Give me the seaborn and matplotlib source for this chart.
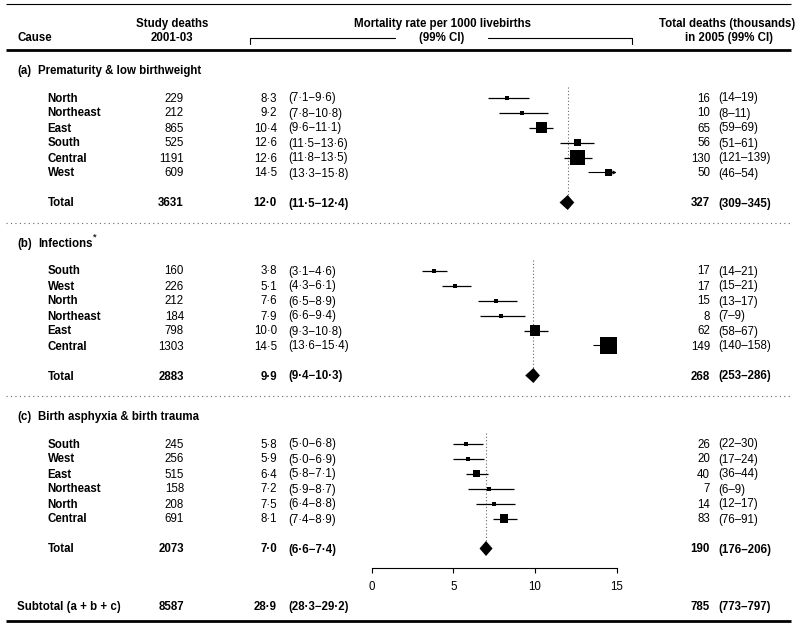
import numpy as np
import pandas as pd
import matplotlib
matplotlib.use("Agg")
import matplotlib.pyplot as plt
import matplotlib.transforms as mtrans
import seaborn as sns

# ---------------- data ----------------
section_letters = ["(a)", "(b)", "(c)"]
section_titles = ["Prematurity & low birthweight", "Infections", "Birth asphyxia & birth trauma"]

regions_a = ["North", "Northeast", "East", "South", "Central", "West"]
deaths_a = [229, 212, 865, 525, 1191, 609]
rate_a = [8.3, 9.2, 10.4, 12.6, 12.6, 14.5]
rlo_a = [7.1, 7.8, 9.6, 11.5, 11.8, 13.3]
rhi_a = [9.6, 10.8, 11.1, 13.6, 13.5, 15.8]
tot_a = [16, 10, 65, 56, 130, 50]
tlo_a = [14, 8, 59, 51, 121, 46]
thi_a = [19, 11, 69, 61, 139, 54]
total_a = dict(deaths=3631, rate=12.0, lo=11.5, hi=12.4, tot=327, tlo=309, thi=345)

regions_b = ["South", "West", "North", "Northeast", "East", "Central"]
deaths_b = [160, 226, 212, 184, 798, 1303]
rate_b = [3.8, 5.1, 7.6, 7.9, 10.0, 14.5]
rlo_b = [3.1, 4.3, 6.5, 6.6, 9.3, 13.6]
rhi_b = [4.6, 6.1, 8.9, 9.4, 10.8, 15.4]
tot_b = [17, 17, 15, 8, 62, 149]
tlo_b = [14, 15, 13, 7, 58, 140]
thi_b = [21, 21, 17, 9, 67, 158]
total_b = dict(deaths=2883, rate=9.9, lo=9.4, hi=10.3, tot=268, tlo=253, thi=286)

regions_c = ["South", "West", "East", "Northeast", "North", "Central"]
deaths_c = [245, 256, 515, 158, 208, 691]
rate_c = [5.8, 5.9, 6.4, 7.2, 7.5, 8.1]
rlo_c = [5.0, 5.0, 5.8, 5.9, 6.4, 7.4]
rhi_c = [6.8, 6.9, 7.1, 8.7, 8.8, 8.9]
tot_c = [26, 20, 40, 7, 14, 83]
tlo_c = [22, 17, 36, 6, 12, 76]
thi_c = [30, 24, 44, 9, 17, 91]
total_c = dict(deaths=2073, rate=7.0, lo=6.6, hi=7.4, tot=190, tlo=176, thi=206)

subtotal = dict(deaths=8587, rate=28.9, lo=28.3, hi=29.2, tot=785, tlo=773, thi=797)

x_ticks = [0, 5, 10, 15]

sections = [
    (regions_a, deaths_a, rate_a, rlo_a, rhi_a, tot_a, tlo_a, thi_a, total_a),
    (regions_b, deaths_b, rate_b, rlo_b, rhi_b, tot_b, tlo_b, thi_b, total_b),
    (regions_c, deaths_c, rate_c, rlo_c, rhi_c, tot_c, tlo_c, thi_c, total_c),
]

# ---------------- layout ----------------
W, H = 800, 629
sns.set_theme(style="white")
plt.rcParams["font.family"] = ["Liberation Sans", "DejaVu Sans"]
FS = 8.3

fig = plt.figure(figsize=(W / 100, H / 100), dpi=100)
x0_px, x15_px, axis_y = 371.7, 616.7, 568.3
ax = fig.add_axes([x0_px / W, (H - axis_y) / H, (x15_px - x0_px) / W, axis_y / H])
ax.set_facecolor("none")
XMAX = 15

blend = mtrans.blended_transform_factory(fig.transFigure, ax.transData)


def fmt(v):
    return f"{v:.1f}".replace(".", "\u00b7")


def txt(px, y, s, ha="left", bold=False, size=FS, **kw):
    ax.text(px / W, y + 4.0, s, transform=blend, ha=ha, va="baseline",
            fontsize=size, fontweight="bold" if bold else "normal",
            color="black", clip_on=False, **kw)


def hline_fig(y, lw, ls="-", color="black"):
    ax.plot([6 / W, 791 / W], [y, y], transform=blend, color=color, lw=lw,
            ls=ls, clip_on=False, solid_capstyle="butt")


X_NAME, X_DEATHS, X_RATE, X_RCI, X_TOT, X_TCI = 47.5, 184, 277, 288, 710, 718

# header
hline_fig(4, 0.8)
txt(17, 37, "Cause", bold=True)
txt(172, 23, "Study deaths", ha="center", bold=True)
txt(172, 37, "2001-03", ha="center", bold=True)
txt(442, 23, "Mortality rate per 1000 livebirths", ha="center", bold=True)
txt(442, 37, "(99% CI)", ha="center", bold=True)
txt(727, 23, "Total deaths (thousands)", ha="center", bold=True)
txt(729, 37, "in 2005 (99% CI)", ha="center", bold=True)
ax.plot(np.array([250, 250, 395]) / W, [44, 38, 38], transform=blend, color="black", lw=0.8, clip_on=False)
ax.plot(np.array([488, 632, 632]) / W, [38, 38, 44], transform=blend, color="black", lw=0.8, clip_on=False)
hline_fig(50, 2.0)

rows = []
header_ys = [70, 243, 416]
for si, (reg, dth, rt, lo, hi, tt, tl, th, total) in enumerate(sections):
    hy = header_ys[si]
    txt(17, hy, section_letters[si], bold=True)
    txt(38, hy, section_titles[si], bold=True)
    if si == 1:
        ax.text(93 / W, hy - 6, "*", transform=blend, ha="left", va="center",
                fontsize=6.5, fontweight="bold", clip_on=False)
    if si > 0:
        hline_fig(hy - 20.5, 0.8, ls=(0, (1, 3)), color="#666666")
    for i in range(len(reg)):
        y = hy + 27.5 + 15 * i
        txt(X_NAME, y, reg[i], bold=True)
        txt(X_DEATHS, y, str(dth[i]), ha="right")
        txt(X_RATE, y, fmt(rt[i]), ha="right")
        txt(X_RCI, y, f"({fmt(lo[i])}\u2212{fmt(hi[i])})")
        txt(X_TOT, y, str(tt[i]), ha="right")
        txt(X_TCI, y, f"({tl[i]}\u2013{th[i]})")
        rows.append(dict(rate=rt[i], y=y, deaths=dth[i], lo=lo[i], hi=hi[i]))
    ty = hy + 132.5
    txt(X_NAME, ty, "Total", bold=True)
    txt(X_DEATHS, ty, str(total["deaths"]), ha="right", bold=True)
    txt(X_RATE, ty, fmt(total["rate"]), ha="right", bold=True)
    txt(X_RCI, ty, f"({fmt(total['lo'])}\u2212{fmt(total['hi'])})", bold=True)
    txt(X_TOT, ty, str(total["tot"]), ha="right", bold=True)
    txt(X_TCI, ty, f"({total['tlo']}\u2013{total['thi']})", bold=True)
    # reference line
    ax.vlines(total["rate"], hy + 17, ty, colors="#666666", lw=0.8, linestyles=(0, (1, 2)), zorder=1)
    # diamond
    ax.fill([total["lo"], total["rate"], total["hi"], total["rate"]],
            [ty, ty - 7.5, ty, ty + 7.5], color="black", lw=0, zorder=3)

# subtotal
sy = 606
txt(17, sy, "Subtotal (a + b + c)", bold=True)
txt(X_DEATHS, sy, str(subtotal["deaths"]), ha="right", bold=True)
txt(X_RATE, sy, fmt(subtotal["rate"]), ha="right", bold=True)
txt(X_RCI, sy, f"({fmt(subtotal['lo'])}\u2212{fmt(subtotal['hi'])})", bold=True)
txt(X_TOT, sy, str(subtotal["tot"]), ha="right", bold=True)
txt(X_TCI, sy, f"({subtotal['tlo']}\u2013{subtotal['thi']})", bold=True)
hline_fig(621, 2.0)

# CI lines and squares
df = pd.DataFrame(rows)
for _, r in df.iterrows():
    if r["hi"] > XMAX:
        ax.annotate("", xy=(XMAX, r["y"]), xytext=(r["lo"], r["y"]),
                    arrowprops=dict(arrowstyle="->", lw=0.8, color="black",
                                    shrinkA=0, shrinkB=0, mutation_scale=5), zorder=2)
    else:
        ax.hlines(r["y"], r["lo"], r["hi"], colors="black", lw=0.9, zorder=2)

side_px = np.maximum(0.013 * df["deaths"].to_numpy(), 4.0)
areas = (side_px * 0.72) ** 2
sns.scatterplot(data=df, x="rate", y="y", marker="s", s=areas, color="black",
                linewidth=0, legend=False, ax=ax, zorder=3, clip_on=False)

ax.set_xlim(0, XMAX)
ax.set_ylim(axis_y, 0)
ax.set_xlabel("")
ax.set_ylabel("")
for sp in ["top", "right", "left"]:
    ax.spines[sp].set_visible(False)
ax.spines["bottom"].set_color("black")
ax.spines["bottom"].set_linewidth(0.8)
ax.set_xticks(x_ticks)
ax.set_xticklabels([str(t) for t in x_ticks])
ax.set_yticks([])
ax.tick_params(axis="x", bottom=True, direction="out", length=3.6, width=0.8,
               color="black", labelsize=FS, pad=5.5, labelcolor="black")
ax.grid(False)

fig.savefig("out.png", dpi=100)
